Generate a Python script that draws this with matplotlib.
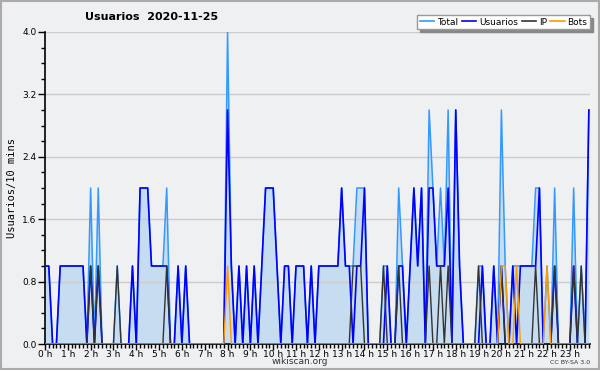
import matplotlib
matplotlib.use("Agg")
import matplotlib.pyplot as plt
from matplotlib.ticker import MultipleLocator, FixedLocator, FormatStrFormatter
from matplotlib.patches import Rectangle
from matplotlib.lines import Line2D

plt.rcParams['font.family'] = ['DejaVu Sans']

# 10-minute slots over the day (144 slots)
usuarios = [1,1,0,0,1,1,1,1,1,1, 1,0,1,0,1,0,0,0,0,0,
            0,0,0,1,0,2,2,2,1,1, 1,1,1,0,0,1,0,1,0,0,
            0,0,0,0,0,0,0,0,3,1, 0,1,0,1,0,1,0,1,2,2,
            2,1,0,1,1,0,1,1,1,0, 1,0,1,1,1,1,1,1,2,1,
            1,0,1,1,2,0,0,0,0,0, 1,0,0,1,1,0,1,2,1,2,
            0,2,2,1,1,1,2,0,3,1, 0,0,0,0,0,1,0,0,1,0,
            1,0,0,1,0,1,1,1,1,1, 2,0,0,0,1,0,0,0,0,1,
            0,0,0,3]
ip = [0,0,0,0,0,0,0,0,0,0, 0,0,1,0,1,0,0,0,0,1,
      0,0,0,0,0,0,0,0,0,0, 0,0,1,0,0,0,0,0,0,0,
      0,0,0,0,0,0,0,0,0,0, 0,0,0,0,0,0,0,0,0,0,
      0,0,0,0,0,0,0,0,0,0, 0,0,0,0,0,0,0,0,0,0,
      0,1,1,1,0,0,0,0,0,1, 0,0,0,1,0,0,0,0,0,0,
      0,1,0,0,1,0,1,0,0,0, 0,0,0,0,1,0,0,0,0,0,
      1,0,0,0,0,0,0,0,0,1, 0,0,0,0,1,0,0,0,0,1,
      0,1,0,0]
bots = [0,0,0,0,0,0,0,0,0,0, 0,0,0,0,0,0,0,0,0,0,
        0,0,0,0,0,0,0,0,0,0, 0,0,0,0,0,0,0,0,0,0,
        0,0,0,0,0,0,0,0,1,0, 0,0,0,0,0,0,0,0,0,0,
        0,0,0,0,0,0,0,0,0,0, 0,0,0,0,0,0,0,0,0,0,
        0,0,0,0,0,0,0,0,0,0, 0,0,0,0,0,0,0,0,0,0,
        0,0,0,0,0,0,0,0,0,0, 0,0,0,0,0,0,0,0,0,0,
        1,1,0,0,1,0,0,0,0,0, 0,0,1,0,0,0,0,0,0,0,
        0,0,0,0]
total = [1,1,0,0,1,1,1,1,1,1, 1,0,2,0,2,0,0,0,0,1,
         0,0,0,1,0,2,2,2,1,1, 1,1,2,0,0,1,0,1,0,0,
         0,0,0,0,0,0,0,0,4,1, 0,1,0,1,0,1,0,1,2,2,
         2,1,0,1,1,0,1,1,1,0, 1,0,1,1,1,1,1,1,2,1,
         1,1,2,2,2,0,0,0,0,1, 1,0,0,2,1,0,1,2,1,2,
         0,3,2,1,2,1,3,0,3,1, 0,0,0,0,1,1,0,0,1,0,
         3,1,0,1,1,1,1,1,1,2, 2,0,1,0,2,0,0,0,0,2,
         0,1,0,3]
hour_labels = [f"{h} h" for h in range(24)]
series_names = ['Total', 'Usuarios', 'IP', 'Bots']
series_colors = ['#3399ff', '#0000ff', '#333333', '#ff9900']

x = list(range(len(total)))

fig = plt.figure(figsize=(6.0, 3.7), dpi=100, facecolor='#eff0f2')
ax = fig.add_axes([45/600, 26/370, 545/600, 312/370])
ax.set_facecolor('#eff0f2')

ax.fill_between(x, total, 0, color='#c6dcf0', lw=0, zorder=1)
ax.plot(x, total, color=series_colors[0], lw=1.1, zorder=3)
ax.plot(x, usuarios, color=series_colors[1], lw=1.2, zorder=4)
ax.plot(x, ip, color=series_colors[2], lw=1.0, zorder=5)
ax.plot(x, bots, color=series_colors[3], lw=1.0, zorder=6)

ax.set_xlim(0, 143.3)
ax.set_ylim(0, 4.0)
ax.yaxis.set_major_locator(MultipleLocator(0.8))
ax.yaxis.set_minor_locator(MultipleLocator(0.2))
ax.yaxis.set_major_formatter(FormatStrFormatter('%.1f'))
ax.xaxis.set_major_locator(FixedLocator([6*h for h in range(24)]))
ax.set_xticklabels(hour_labels)
ax.xaxis.set_minor_locator(MultipleLocator(1))
ax.tick_params(axis='both', which='both', direction='out', color='black')
ax.tick_params(axis='y', which='major', length=5, width=1, labelsize=6.5, pad=1)
ax.tick_params(axis='y', which='minor', length=3, width=1)
ax.tick_params(axis='x', which='major', length=4, width=1, labelsize=6.5, pad=0)
ax.tick_params(axis='x', which='minor', length=3, width=1)
ax.grid(axis='y', which='major', color='#cccccc', lw=1, zorder=0)
for s in ['top', 'right']:
    ax.spines[s].set_visible(False)
ax.spines['left'].set_linewidth(1.2)
ax.spines['bottom'].set_linewidth(1.2)

ax.set_ylabel('Usuarios/10 mins', family='DejaVu Sans Mono', fontsize=7.5, labelpad=4)

fig.text(85/600, 1-17/370, 'Usuarios  2020-11-25', fontsize=8, fontweight='bold',
         ha='left', va='center')
fig.text(300/600, 1-362/370, 'wikiscan.org', fontsize=6.5, ha='center', va='center', color='#333333')
fig.text(590/600, 1-362/370, 'CC BY-SA 3.0', fontsize=4.5, ha='right', va='center', color='#333333')

handles = [Line2D([], [], color=c, lw=1.2) for c in series_colors]
leg = ax.legend(handles, series_names, loc='upper right', ncol=4,
                bbox_to_anchor=(1.0, 1.055), fontsize=6.5, frameon=True, fancybox=False,
                shadow={'color': '#888888', 'alpha': 1.0}, handlelength=1.6,
                handletextpad=0.3, columnspacing=0.4, borderpad=0.3, borderaxespad=0)
leg.get_frame().set_edgecolor('#999999')
leg.get_frame().set_facecolor('white')
leg.get_frame().set_linewidth(1)

fig.patches.append(Rectangle((0.002, 0.003), 0.996, 0.994, transform=fig.transFigure,
                             fill=False, edgecolor='#aaaaaa', lw=1.5))

fig.savefig('out.png', dpi=100, facecolor=fig.get_facecolor())
